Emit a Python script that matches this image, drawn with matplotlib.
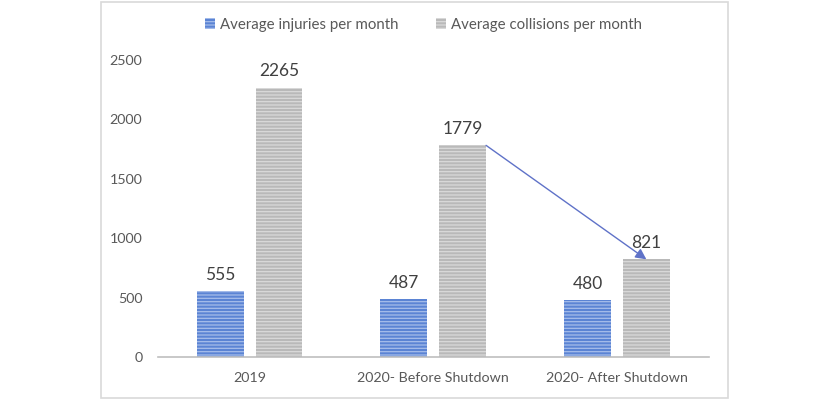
import numpy as np
import matplotlib.pyplot as plt
from matplotlib.patches import Rectangle

categories = ["2019", "2020- Before Shutdown", "2020- After Shutdown"]
injuries   = [555, 487, 480]
collisions = [2265, 1779, 821]
yticks     = [0, 500, 1000, 1500, 2000, 2500]

plt.rcParams['font.family'] = ['Lato', 'DejaVu Sans']
plt.rcParams['hatch.linewidth'] = 0.9

fig = plt.figure(figsize=(8.3, 4.0), dpi=100)
fig.patches.append(Rectangle((0.1217, 0.004), 0.7553, 0.99, transform=fig.transFigure,
                             fill=False, edgecolor="#d9d9d9", linewidth=1.2))
ax = fig.add_axes([0.190, 0.1075, 0.664, 0.7435])

x = np.arange(len(categories))
w = 0.255
off = 0.16
b1 = ax.bar(x - off, injuries, w, color="#5b84d4", edgecolor="#a6bdea",
            hatch="-----", linewidth=0, label="Average injuries per month")
b2 = ax.bar(x + off, collisions, w, color="#b9b9b9", edgecolor="#dadada",
            hatch="-----", linewidth=0, label="Average collisions per month")

for bars, vals in [(b1, injuries), (b2, collisions)]:
    for r, v in zip(bars, vals):
        ax.annotate(str(v), (r.get_x() + r.get_width() / 2, v), xytext=(0, 6),
                    textcoords="offset points", ha="center", va="bottom",
                    fontsize=12.5, color="#404040")

# arrow showing the drop in collisions
ax.annotate("", xy=(x[2] + off, collisions[2]),
            xytext=(x[1] + off + w / 2, collisions[1]),
            arrowprops=dict(arrowstyle="-|>", color="#5f72c8", lw=1.0,
                            mutation_scale=16, shrinkA=0, shrinkB=0))

ax.set_xlim(-0.5, 2.5)
ax.set_ylim(0, 2500)
ax.set_yticks(yticks)
ax.set_xticks(x)
ax.set_xticklabels(categories)
ax.tick_params(length=0, labelsize=10.3, labelcolor="#595959")
ax.tick_params(axis="y", pad=11)
ax.tick_params(axis="x", pad=11)
for s in ["top", "right", "left"]:
    ax.spines[s].set_visible(False)
ax.spines["bottom"].set_color("#bfbfbf")
ax.spines["bottom"].set_linewidth(1.2)

leg = fig.legend(loc="upper center", bbox_to_anchor=(0.51, 0.99), ncol=2, frameon=False,
                 fontsize=10.8, handlelength=0.7, handleheight=0.7, handletextpad=0.3,
                 columnspacing=2.5, labelcolor="#595959")

fig.savefig("out.png", dpi=100)
